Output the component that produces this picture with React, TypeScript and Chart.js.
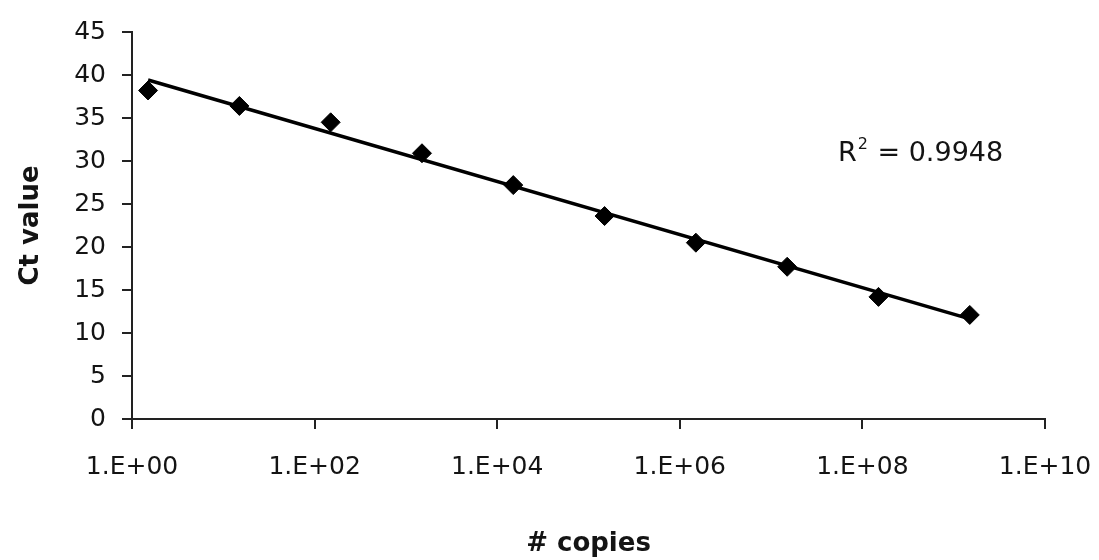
import React, { useEffect, useRef } from "react";
import { Chart, registerables } from "chart.js";

Chart.register(...registerables);

// ---- data ----
const copies = [1.5, 15, 150, 1.5e3, 1.5e4, 1.5e5, 1.5e6, 1.5e7, 1.5e8, 1.5e9];
const ctValues = [38.2, 36.4, 34.5, 30.9, 27.2, 23.6, 20.5, 17.7, 14.2, 12.1];
const xTickValues = [1, 1e2, 1e4, 1e6, 1e8, 1e10];
const yTickValues = [0, 5, 10, 15, 20, 25, 30, 35, 40, 45];
const r2Text = "0.9948";
const r2AnchorX = 5.4e7;
const r2AnchorY = 30.8;
const xTitle = "# copies";
const yTitle = "Ct value";

const INK = "#141414";
const FONT = "DejaVu Sans";

function logFit(xs: number[], ys: number[]) {
  const lx = xs.map((v) => Math.log10(v));
  const n = lx.length;
  const mx = lx.reduce((a, b) => a + b, 0) / n;
  const my = ys.reduce((a, b) => a + b, 0) / n;
  let sxy = 0;
  let sxx = 0;
  for (let i = 0; i < n; i++) {
    sxy += (lx[i] - mx) * (ys[i] - my);
    sxx += (lx[i] - mx) * (lx[i] - mx);
  }
  const m = sxy / sxx;
  const b = my - m * mx;
  return (x: number) => b + m * Math.log10(x);
}

function fmtExp(v: number) {
  const e = Math.round(Math.log10(v));
  return "1.E+" + String(e).padStart(2, "0");
}

const r2Plugin = {
  id: "r2label",
  afterDatasetsDraw(chart: any) {
    const { ctx, scales } = chart;
    const x = scales.x.getPixelForValue(r2AnchorX);
    const y = scales.y.getPixelForValue(r2AnchorY);
    ctx.save();
    ctx.fillStyle = INK;
    ctx.textBaseline = "middle";
    ctx.textAlign = "left";
    ctx.font = `27px "${FONT}"`;
    ctx.fillText("R", x, y);
    const wR = ctx.measureText("R").width;
    ctx.font = `16px "${FONT}"`;
    ctx.fillText("2", x + wR + 1, y - 9);
    const w2 = ctx.measureText("2").width;
    ctx.font = `27px "${FONT}"`;
    ctx.fillText(" = " + r2Text, x + wR + w2 + 2, y);
    ctx.restore();
  },
};

export default function App() {
  const ref = useRef<HTMLCanvasElement | null>(null);

  useEffect(() => {
    if (!ref.current) return;
    const trendFn = logFit(copies, ctValues);
    const xMin = Math.min(...copies);
    const xMax = Math.max(...copies);
    const points = copies.map((c, i) => ({ x: c, y: ctValues[i] }));
    const trend = [
      { x: xMin, y: trendFn(xMin) },
      { x: xMax, y: trendFn(xMax) },
    ];

    const chart = new Chart(ref.current, {
      type: "scatter",
      data: {
        datasets: [
          {
            label: "trend",
            data: trend,
            showLine: true,
            borderColor: "#000",
            borderWidth: 3.5,
            pointRadius: 0,
            fill: false,
          },
          {
            label: "Ct",
            data: points,
            pointStyle: "rectRot",
            pointRadius: 9.5,
            pointBackgroundColor: "#000",
            pointBorderColor: "#000",
            pointBorderWidth: 1,
          },
        ],
      },
      options: {
        animation: false,
        responsive: true,
        maintainAspectRatio: false,
        layout: { padding: { left: 0, right: 54, top: 32, bottom: 0 } },
        plugins: {
          legend: { display: false },
          tooltip: { enabled: false },
        },
        scales: {
          x: {
            type: "logarithmic",
            min: 1,
            max: 1e10,
            afterBuildTicks: (s: any) => {
              s.ticks = xTickValues.map((v) => ({ value: v }));
            },
            afterFit: (s: any) => {
              s.height = 141;
              s.paddingLeft = 0;
              s.paddingRight = 0;
            },
            ticks: {
              autoSkip: false,
              maxRotation: 0,
              padding: 23,
              color: INK,
              font: { family: FONT, size: 25 },
              callback: (v: any) => fmtExp(Number(v)),
            },
            grid: {
              display: true,
              drawOnChartArea: false,
              drawTicks: true,
              tickLength: 10,
              color: "#222",
              lineWidth: 2,
            },
            border: { display: true, color: "#222", width: 2 },
            title: {
              display: true,
              text: xTitle,
              color: INK,
              font: { family: FONT, size: 26, weight: "bold" },
              padding: { top: 0, bottom: 0 },
            },
          },
          y: {
            type: "linear",
            min: 0,
            max: 45,
            afterBuildTicks: (s: any) => {
              s.ticks = yTickValues.map((v) => ({ value: v }));
            },
            afterFit: (s: any) => {
              s.width = 132;
              s.paddingTop = 0;
              s.paddingBottom = 0;
            },
            ticks: {
              padding: 16,
              color: INK,
              font: { family: FONT, size: 25 },
            },
            grid: {
              display: true,
              drawOnChartArea: false,
              drawTicks: true,
              tickLength: 10,
              color: "#222",
              lineWidth: 2,
            },
            border: { display: true, color: "#222", width: 2 },
            title: {
              display: true,
              text: yTitle,
              color: INK,
              font: { family: FONT, size: 26, weight: "bold" },
              padding: { top: 16, bottom: 0 },
            },
          },
        },
      } as any,
      plugins: [r2Plugin],
    });
    return () => chart.destroy();
  }, []);

  return (
    <div
      style={{
        position: "fixed",
        left: 0,
        top: 0,
        width: 1099,
        height: 560,
        background: "#fff",
      }}
    >
      <canvas ref={ref} />
    </div>
  );
}
